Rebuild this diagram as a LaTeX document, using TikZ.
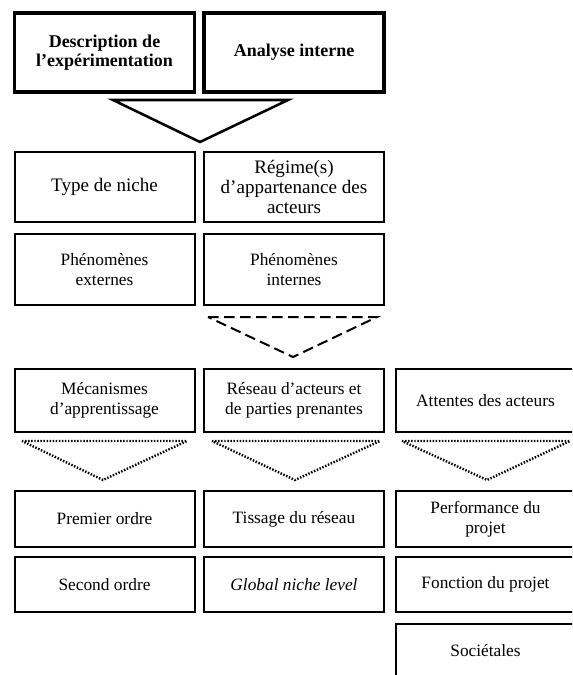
\documentclass[tikz,border=0pt]{standalone}
\usepackage{fontspec}
\setmainfont{Liberation Serif}
\begin{document}
\begin{tikzpicture}[x=0.75pt, y=-0.75pt,
  every node/.style={font=\fontsize{13}{15}\selectfont, align=center, inner sep=0pt},
  cell/.style={draw, line width=1.5pt, minimum width=135pt},
  bigcell/.style={cell, minimum height=52.5pt, font=\fontsize{14.3}{15.2}\selectfont},
  headcell/.style={draw, line width=2.6pt, minimum width=135pt, minimum height=59.25pt, font=\fontsize{13.5}{14}\selectfont\bfseries},
  solidtri/.style={line width=1.9pt, line join=miter},
  dashtri/.style={line width=1.5pt, dash pattern=on 8pt off 4pt},
  dottri/.style={line width=1.8pt, dash pattern=on 1.1pt off 1.2pt}]
\useasboundingbox (0,0) rectangle (572,675);
\clip (0,0) rectangle (572,675);

% top row
\node[headcell] (desc) at (104.5, 52.5) {Description de\\l’expérimentation};
\node[headcell] (analyse) at (294, 52.5) {Analyse interne};
\draw[solidtri] (113, 100) -- (288, 100) -- (200, 142) -- cycle;

% niche and regimes
\node[bigcell] (niche) at (104.5, 187) {Type de niche};
\node[bigcell] (regime) at (294, 187) {Régime(s)\\d’appartenance des\\acteurs};
\node[cell, minimum height=53.25pt] (phenext) at (104.5, 269.5) {Phénomènes\\externes};
\node[cell, minimum height=53.25pt] (phenint) at (294, 269.5) {Phénomènes\\internes};
\draw[dashtri] (208, 317) -- (377, 317) -- (293, 357) -- cycle;

% three columns
\node[cell, minimum height=47.25pt] (meca) at (104.5, 400.5) {Mécanismes\\d’apprentissage};
\node[cell, minimum height=47.25pt] (reseau) at (294, 400.5) {Réseau d’acteurs et\\de parties prenantes};
\node[cell, minimum height=47.25pt] (attentes) at (485.5, 400.5) {Attentes des acteurs};
\draw[dottri] (22, 441) -- (187, 441) -- (103, 480) -- cycle;
\draw[dottri] (212, 441) -- (380, 441) -- (295, 480) -- cycle;
\draw[dottri] (402, 441) -- (570, 441) -- (487, 480) -- cycle;

\node[cell, minimum height=42pt] (premier) at (104.5, 519) {Premier ordre};
\node[cell, minimum height=42pt] (tissage) at (294, 519) {Tissage du réseau};
\node[cell, minimum height=42pt] (perf) at (485.5, 519) {Performance du\\projet};
\node[cell, minimum height=41.25pt] (second) at (104.5, 584.5) {Second ordre};
\node[cell, minimum height=41.25pt] (globalniche) at (294, 584.5) {\itshape Global niche level};
\node[cell, minimum height=41.25pt] (fonction) at (485.5, 584.5) {Fonction du projet};
\node[cell, minimum height=41pt] (societales) at (485.5, 651) {Sociétales};

\end{tikzpicture}
\end{document}
